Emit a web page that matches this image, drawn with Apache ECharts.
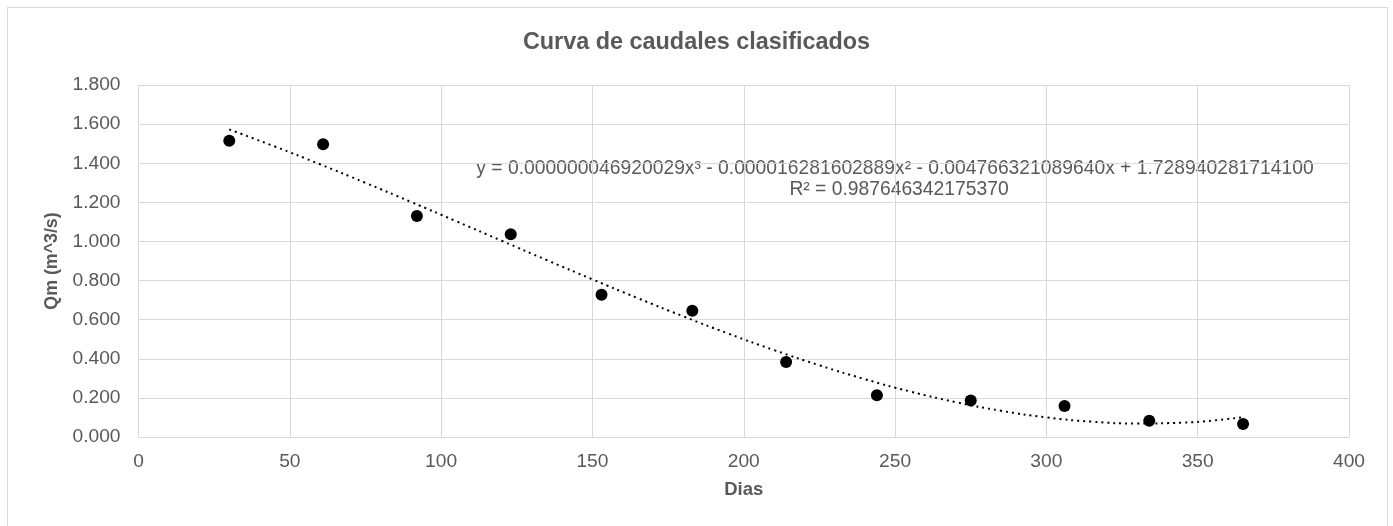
<!DOCTYPE html>
<html>
<head>
<meta charset="utf-8">
<script src="https://cdn.jsdelivr.net/npm/echarts@6/dist/echarts.min.js"></script>
<style>
html,body{margin:0;padding:0;background:#fff;overflow:hidden;}
#frame{position:absolute;left:7px;top:7px;width:1381px;height:540px;border:1px solid #d9d9d9;box-sizing:border-box;}
#chart{position:absolute;left:0;top:0;width:1393px;height:526px;}
</style>
</head>
<body>
<div id="frame"></div>
<div id="chart"></div>
<script>
// Observed data (Dias, Qm)
var dias = [30, 61, 92, 123, 153, 183, 214, 244, 275, 306, 334, 365];
var qm = [1.515, 1.497, 1.130, 1.037, 0.728, 0.645, 0.383, 0.213, 0.187, 0.158, 0.083, 0.066];

// Polynomial trendline (order 3) values
var trendX = [30, 45, 60, 75, 90, 105, 120, 135, 150, 165, 180, 195, 210, 225, 240, 255, 270, 285, 300, 315, 330, 345, 355, 365];
var trendY = [1.5726, 1.4858, 1.3945, 1.2997, 1.2023, 1.1033, 1.0036, 0.9042, 0.8060, 0.7100, 0.6171, 0.5283, 0.4445, 0.3667, 0.2958, 0.2328, 0.1786, 0.1342, 0.1005, 0.0785, 0.0692, 0.0734, 0.0842, 0.1017];

var yTicks = [0, 0.2, 0.4, 0.6, 0.8, 1.0, 1.2, 1.4, 1.6, 1.8];
var xTicks = [0, 50, 100, 150, 200, 250, 300, 350, 400];

var titleText = 'Curva de caudales clasificados';
var xName = 'Dias';
var yName = 'Qm (m^3/s)';
var eqText = 'y = 0.000000046920029x³ - 0.000016281602889x² - 0.004766321089640x + 1.728940281714100';
var r2Text = 'R² = 0.987646342175370';

var pts = dias.map(function(d, i){ return [d, qm[i]]; });
var trend = trendX.map(function(d, i){ return [d, trendY[i]]; });

var chart = echarts.init(document.getElementById('chart'));
var txt = '#595959';
var ff = 'Liberation Sans';
chart.setOption({
  animation: false,
  backgroundColor: 'transparent',
  title: {
    text: titleText, left: 'center', top: 26,
    textStyle: {fontFamily: ff, fontSize: 23.4, fontWeight: 'bold', color: txt}
  },
  grid: {left: 138.5, right: 44, top: 85, bottom: 89, containLabel: false},
  xAxis: {
    type: 'value', min: xTicks[0], max: xTicks[xTicks.length-1], interval: 50,
    name: xName, nameLocation: 'middle', nameGap: 43,
    nameTextStyle: {fontFamily: ff, fontSize: 18.5, fontWeight: 'bold', color: txt},
    axisLine: {show: true, lineStyle: {color: '#d9d9d9', width: 1}},
    axisTick: {show: false},
    axisLabel: {fontFamily: ff, fontSize: 19.2, color: txt, margin: 15},
    splitLine: {show: true, lineStyle: {color: '#d9d9d9', width: 1}}
  },
  yAxis: {
    type: 'value', min: yTicks[0], max: yTicks[yTicks.length-1], interval: 0.2,
    name: yName, nameLocation: 'middle', nameGap: 74, nameRotate: 90,
    nameTextStyle: {fontFamily: ff, fontSize: 17.8, fontWeight: 'bold', color: txt},
    axisLine: {show: true, lineStyle: {color: '#d9d9d9', width: 1}},
    axisTick: {show: false},
    axisLabel: {fontFamily: ff, fontSize: 19.2, color: txt, margin: 18,
      formatter: function(v){ return v.toFixed(3); }},
    splitLine: {show: true, lineStyle: {color: '#d9d9d9', width: 1}}
  },
  graphic: [
    {type: 'text', x: 895, y: 168.5, style: {text: eqText, fontFamily: ff, fontSize: 19.3, fill: txt, align: 'center', verticalAlign: 'middle'}},
    {type: 'text', x: 899, y: 189.5, style: {text: r2Text, fontFamily: ff, fontSize: 19.3, fill: txt, align: 'center', verticalAlign: 'middle'}}
  ],
  series: [
    {
      type: 'line', data: trend, smooth: true, showSymbol: false, symbol: 'none',
      lineStyle: {color: '#000', width: 2, type: [2, 4]}, z: 3
    },
    {
      type: 'scatter', data: pts, symbol: 'circle', symbolSize: 12,
      itemStyle: {color: '#000', opacity: 1}, z: 4
    }
  ]
});
</script>
</body>
</html>
